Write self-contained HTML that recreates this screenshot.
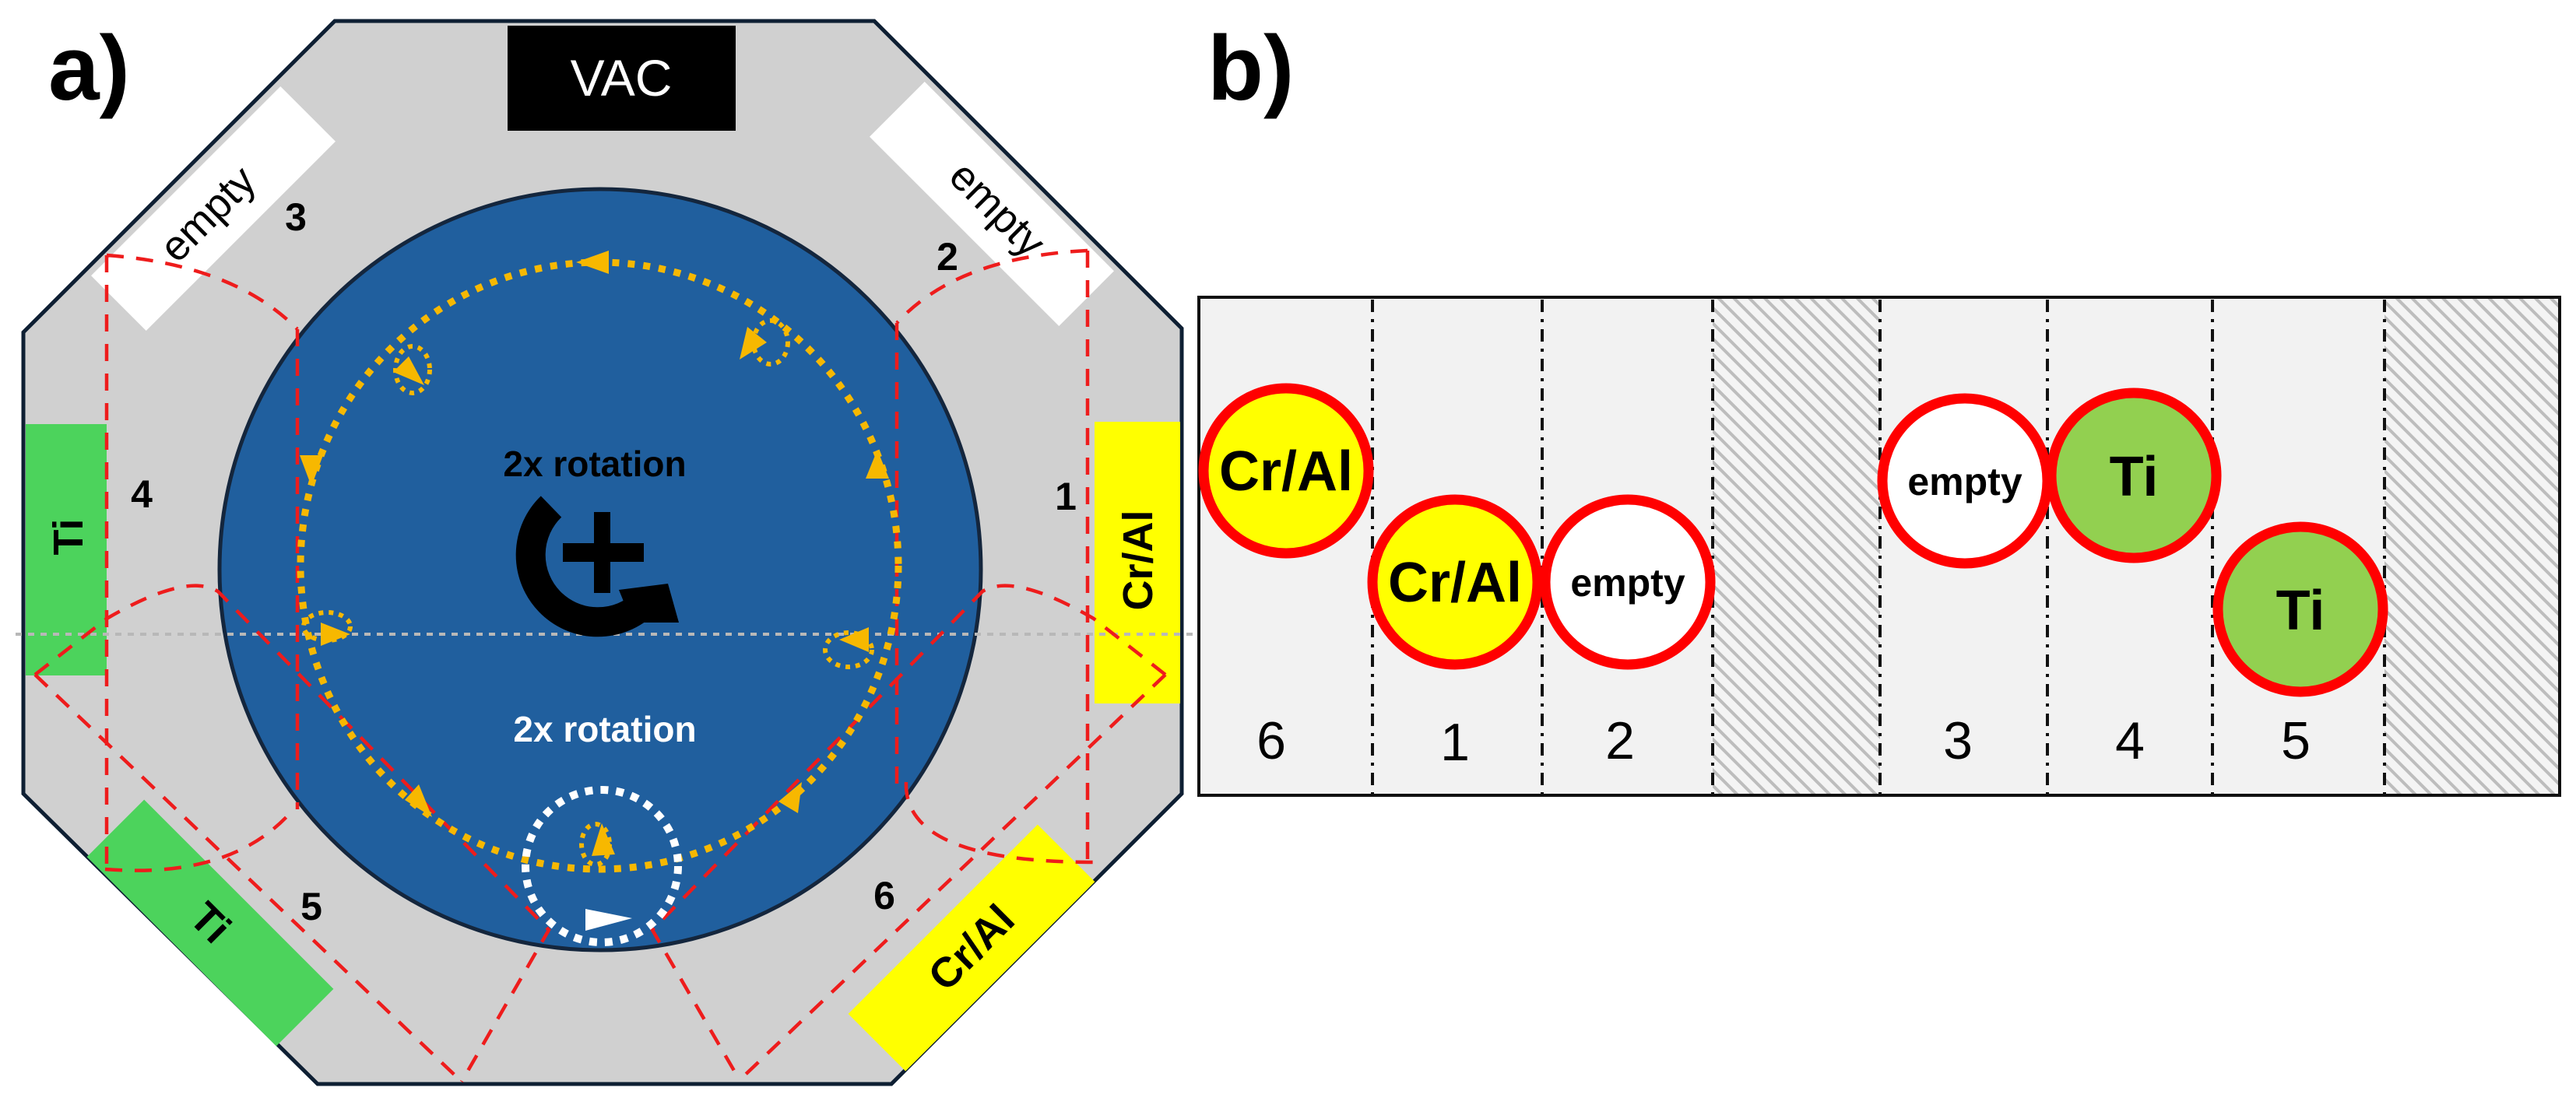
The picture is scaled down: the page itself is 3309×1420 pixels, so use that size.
<!DOCTYPE html>
<html><head><meta charset="utf-8"><style>
html,body{margin:0;padding:0;background:#fff;}
svg{display:block;}
text{font-family:"Liberation Sans",sans-serif;}
</style></head><body>
<svg width="3309" height="1420" viewBox="0 0 3309 1420" xmlns="http://www.w3.org/2000/svg">
<defs>
<pattern id="hatch" width="14" height="14" patternUnits="userSpaceOnUse" patternTransform="rotate(-45)">
<rect width="14" height="14" fill="#f4f4f4"/>
<rect x="0" y="0" width="4" height="14" fill="#bdbdbd"/>
</pattern>
</defs>

<text x="62" y="128" font-size="118" font-weight="bold">a)</text>

<polygon points="430,27 1123,27 1518,422 1518,1020 1145,1393 408,1393 30,1020 30,427" fill="#d0d0d0" stroke="#0e1f33" stroke-width="5"/>

<rect x="652" y="33" width="293" height="135" fill="#000"/>
<text x="798" y="123" font-size="66" fill="#fff" text-anchor="middle">VAC</text>

<g transform="translate(274,268) rotate(-45)">
<rect x="-172" y="-50" width="344" height="100" fill="#fff"/>
<text x="-10" y="18" font-size="54" text-anchor="middle">empty</text>
</g>
<g transform="translate(1274,262) rotate(45)">
<rect x="-172" y="-50" width="344" height="100" fill="#fff"/>
<text x="10" y="18" font-size="54" text-anchor="middle">empty</text>
</g>

<rect x="33" y="545" width="104" height="323" fill="#4cd35c"/>
<text transform="translate(88,690) rotate(-90)" x="0" y="18" font-size="54" font-weight="bold" text-anchor="middle">Ti</text>
<rect x="1406" y="542" width="110" height="362" fill="#ffff00"/>
<text transform="translate(1462,720) rotate(-90)" x="0" y="18" font-size="54" font-weight="bold" text-anchor="middle">Cr/Al</text>

<g transform="translate(270,1186) rotate(45)">
<rect x="-172" y="-52" width="344" height="104" fill="#4cd35c"/>
<text x="0" y="18" font-size="54" font-weight="bold" text-anchor="middle">Ti</text>
</g>
<g transform="translate(1248,1218) rotate(-45)">
<rect x="-172" y="-52" width="344" height="104" fill="#ffff00"/>
<text x="0" y="18" font-size="54" font-weight="bold" text-anchor="middle">Cr/Al</text>
</g>

<g font-size="50" font-weight="bold" text-anchor="middle">
<text x="380" y="296">3</text>
<text x="1217" y="347">2</text>
<text x="182" y="652">4</text>
<text x="1369" y="655">1</text>
<text x="400" y="1182">5</text>
<text x="1136" y="1168">6</text>
</g>

<circle cx="771" cy="732" r="489" fill="#205f9e" stroke="#14263d" stroke-width="5"/>

<line x1="20" y1="815" x2="1540" y2="815" stroke="#b8b8b8" stroke-width="4" stroke-dasharray="8 8"/>

<g fill="none" stroke="#ee1c1c" stroke-width="4.5" stroke-dasharray="22 16">
<path d="M137,328 L137,1117"/>
<path d="M137,328 Q300,340 382,423"/>
<path d="M382,423 L382,1040"/>
<path d="M1397,322 L1397,1110"/>
<path d="M1397,322 Q1230,330 1152,415"/>
<path d="M1152,415 L1152,1010"/>
<path d="M45,867 L137,795 Q240,735 280,760 L705,1195 L593,1390"/>
<path d="M1497,867 L1405,795 Q1302,735 1262,760 L838,1195 L950,1388"/>
<path d="M45,867 L593,1390"/>
<path d="M1497,867 L950,1388"/>
<path d="M135,1117 Q300,1130 377,1040"/>
<path d="M1164,1005 Q1160,1110 1415,1108"/>
</g>

<ellipse cx="770" cy="727" rx="384" ry="390" fill="none" stroke="#f7b800" stroke-width="9" stroke-dasharray="9 11"/>
<g fill="none" stroke="#f7b800" stroke-width="6" stroke-dasharray="6 7">
<ellipse cx="990" cy="440" rx="22" ry="28"/>
<ellipse cx="530" cy="475" rx="22" ry="30"/>
<ellipse cx="420" cy="805" rx="30" ry="18"/>
<ellipse cx="1090" cy="835" rx="30" ry="22"/>
<ellipse cx="765" cy="1085" rx="18" ry="26"/>
</g>
<g fill="#f7b800">
<polygon points="740,337 782,322 782,352"/>
<polygon points="950,462 960,420 985,440"/>
<polygon points="1127,578 1112,615 1142,615"/>
<polygon points="1078,822 1116,806 1116,838"/>
<polygon points="1030,1005 1000,1030 1025,1045"/>
<polygon points="773,1058 760,1100 790,1098"/>
<polygon points="555,1050 520,1028 538,1008"/>
<polygon points="450,815 412,800 412,830"/>
<polygon points="400,625 385,585 415,585"/>
<polygon points="545,495 505,478 525,458"/>
</g>

<path d="M708,651 A81,81 0 1,0 828,775" fill="none" stroke="#000" stroke-width="38"/>
<polygon points="795,758 858,750 872,800 812,800" fill="#000"/>
<rect x="763" y="658" width="21" height="104" fill="#000"/>
<rect x="723" y="698" width="104" height="24" fill="#000"/>
<text x="764" y="612" font-size="46" font-weight="bold" text-anchor="middle">2x rotation</text>
<text x="777" y="953" font-size="46" font-weight="bold" fill="#fff" text-anchor="middle">2x rotation</text>

<circle cx="773" cy="1113" r="98" fill="none" stroke="#fff" stroke-width="10" stroke-dasharray="10 10"/>
<polygon points="752,1168 812,1180 752,1196" fill="#fff"/>

<text x="1551" y="128" font-size="118" font-weight="bold">b)</text>

<rect x="1540" y="382" width="1748" height="640" fill="#f2f2f2"/>
<rect x="2200" y="382" width="215" height="640" fill="url(#hatch)"/>
<rect x="3063" y="382" width="225" height="640" fill="url(#hatch)"/>
<g stroke="#111" stroke-width="4" stroke-dasharray="16 9 4 9">
<line x1="1763" y1="385" x2="1763" y2="1020"/>
<line x1="1981" y1="385" x2="1981" y2="1020"/>
<line x1="2200" y1="385" x2="2200" y2="1020"/>
<line x1="2415" y1="385" x2="2415" y2="1020"/>
<line x1="2630" y1="385" x2="2630" y2="1020"/>
<line x1="2842" y1="385" x2="2842" y2="1020"/>
<line x1="3063" y1="385" x2="3063" y2="1020"/>
</g>
<rect x="1540" y="382" width="1748" height="640" fill="none" stroke="#111" stroke-width="4"/>

<g stroke="#ff0000" stroke-width="13">
<circle cx="1652" cy="605" r="106" fill="#ffff00"/>
<circle cx="1869" cy="748" r="106" fill="#ffff00"/>
<circle cx="2091" cy="748" r="106" fill="#ffffff"/>
<circle cx="2524" cy="618" r="106" fill="#ffffff"/>
<circle cx="2741" cy="611" r="106" fill="#92d050"/>
<circle cx="2955" cy="783" r="106" fill="#92d050"/>
</g>
<g font-weight="bold" text-anchor="middle">
<text x="1652" y="630" font-size="72">Cr/Al</text>
<text x="1869" y="773" font-size="72">Cr/Al</text>
<text x="2091" y="766" font-size="50">empty</text>
<text x="2524" y="636" font-size="50">empty</text>
<text x="2741" y="637" font-size="72">Ti</text>
<text x="2955" y="809" font-size="72">Ti</text>
</g>
<g font-size="68" text-anchor="middle">
<text x="1633" y="975">6</text>
<text x="1869" y="977">1</text>
<text x="2081" y="975">2</text>
<text x="2515" y="975">3</text>
<text x="2736" y="975">4</text>
<text x="2949" y="975">5</text>
</g>
</svg>
</body></html>
